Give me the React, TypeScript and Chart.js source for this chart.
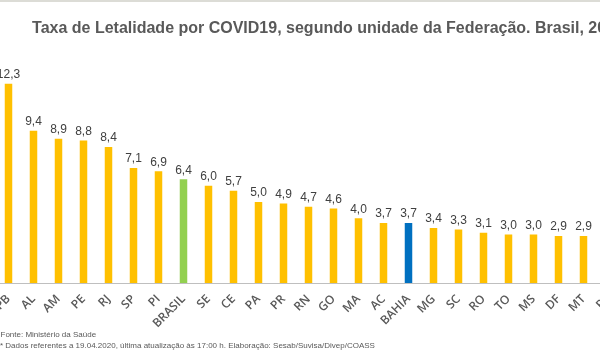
import React, { useEffect, useRef } from 'react';
import { Chart, registerables } from 'chart.js';

Chart.register(...registerables);

const TITLE = 'Taxa de Letalidade por COVID19, segundo unidade da Federação. Brasil, 2020';
const FOOTNOTES = [
  'Fonte: Ministério da Saúde',
  '* Dados referentes a 19.04.2020, última atualização às 17:00 h. Elaboração: Sesab/Suvisa/Divep/COASS',
];

const categories = [
  'PB', 'AL', 'AM', 'PE', 'RJ', 'SP', 'PI', 'BRASIL', 'SE', 'CE', 'PA', 'PR', 'RN',
  'GO', 'MA', 'AC', 'BAHIA', 'MG', 'SC', 'RO', 'TO', 'MS', 'DF', 'MT', 'RS',
];
const values = [
  12.3, 9.4, 8.9, 8.8, 8.4, 7.1, 6.9, 6.4, 6.0, 5.7, 5.0, 4.9, 4.7,
  4.6, 4.0, 3.7, 3.7, 3.4, 3.3, 3.1, 3.0, 3.0, 2.9, 2.9, 2.8,
];
const highlightColors: Record<string, string> = { BRASIL: '#92D050', BAHIA: '#0070C0' };
const baseColor = '#FFC000';

const CANVAS_W = 664;
const CANVAS_H = 360;

export default function App() {
  const ref = useRef<HTMLCanvasElement>(null);

  useEffect(() => {
    if (!ref.current) return;

    const valueLabels = {
      id: 'valueLabels',
      afterDatasetsDraw(chart: any) {
        const ctx = chart.ctx;
        const meta = chart.getDatasetMeta(0);
        ctx.save();
        ctx.font = '12px "Liberation Sans", Arial, sans-serif';
        ctx.fillStyle = '#404040';
        ctx.textAlign = 'center';
        ctx.textBaseline = 'bottom';
        meta.data.forEach((el: any, i: number) => {
          const txt = values[i].toFixed(1).replace('.', ',');
          ctx.fillText(txt, el.x, el.y - 3);
        });
        ctx.restore();
      },
    };

    const footnotes = {
      id: 'footnotes',
      afterDraw(chart: any) {
        const ctx = chart.ctx;
        ctx.save();
        ctx.font = '8px "Liberation Sans", Arial, sans-serif';
        ctx.fillStyle = '#595959';
        ctx.textAlign = 'left';
        ctx.textBaseline = 'middle';
        ctx.fillText(FOOTNOTES[0], 4.5, 335);
        ctx.fillText(FOOTNOTES[1], 4, 346);
        ctx.restore();
      },
    };

    const chart = new Chart(ref.current, {
      type: 'bar',
      data: {
        labels: categories,
        datasets: [
          {
            data: values,
            backgroundColor: categories.map((c) => highlightColors[c] || baseColor),
            barPercentage: 0.3,
            categoryPercentage: 1,
          },
        ],
      },
      options: {
        responsive: false,
        animation: false,
        layout: { padding: 0 },
        plugins: {
          legend: { display: false },
          tooltip: { enabled: false },
          title: {
            display: true,
            text: TITLE,
            color: '#595959',
            font: { family: '"Liberation Sans", Arial, sans-serif', size: 16, weight: 'bold' },
            padding: { top: 19, bottom: 18 },
          },
        },
        scales: {
          x: {
            offset: true,
            grid: { display: true, drawOnChartArea: false, drawTicks: false },
            border: { display: true, color: '#BFBFBF', width: 1 },
            ticks: {
              autoSkip: false,
              maxRotation: 45,
              minRotation: 45,
              padding: 9,
              color: '#595959',
              font: { family: '"Open Sans", sans-serif', size: 12, weight: '600' },
            },
            afterFit: (s: any) => {
              s.height = 77;
              s.paddingLeft = 0;
              s.paddingRight = 0;
            },
          },
          y: {
            position: 'right',
            min: 0,
            max: 14,
            grid: { display: false },
            border: { display: false },
            ticks: { display: false },
            afterFit: (s: any) => {
              s.width = CANVAS_W - 625;
              s.paddingTop = 0;
              s.paddingBottom = 0;
            },
          },
        },
      },
      plugins: [valueLabels, footnotes],
    } as any);

    return () => chart.destroy();
  }, []);

  return (
    <div
      style={{
        position: 'fixed',
        left: 0,
        top: 0,
        width: 600,
        height: 360,
        overflow: 'hidden',
        background: '#ffffff',
      }}
    >
      <div style={{ position: 'absolute', left: -4, top: 0, width: CANVAS_W, height: CANVAS_H }}>
        <canvas ref={ref} width={CANVAS_W} height={CANVAS_H} style={{ width: CANVAS_W, height: CANVAS_H, display: 'block' }} />
      </div>
      <div style={{ position: 'absolute', left: 0, top: 0, width: 600, height: 2, background: '#dcdcd6' }} />
    </div>
  );
}
